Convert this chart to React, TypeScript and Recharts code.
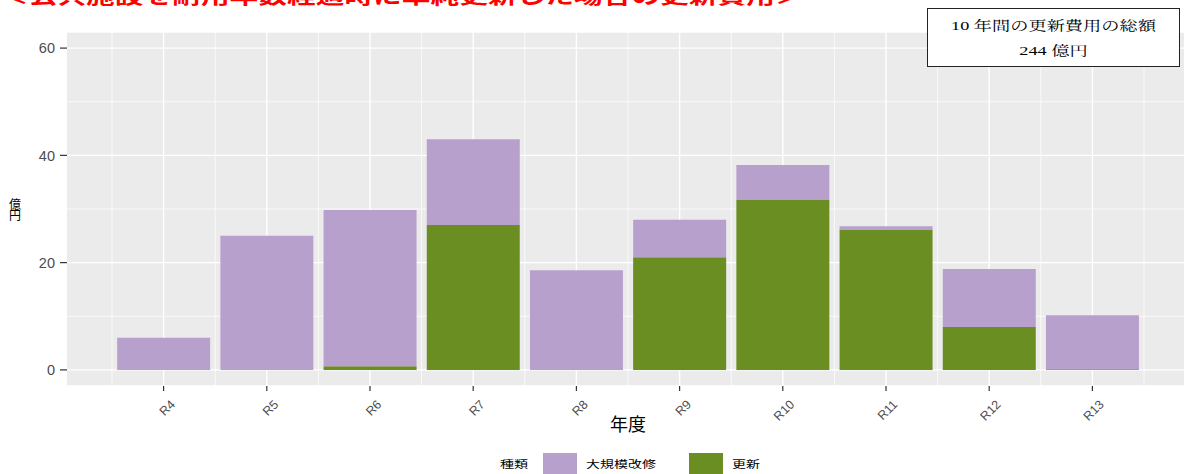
import React from "react";
import {
  Bar,
  BarChart,
  CartesianGrid,
  Label,
  Legend,
  XAxis,
  YAxis,
} from "recharts";

// 年度
const years = ["R4", "R5", "R6", "R7", "R8", "R9", "R10", "R11", "R12", "R13"];
// 更新 (億円)
const renewal = [0, 0, 0.7, 27.0, 0, 21.0, 31.7, 26.2, 8.0, 0.1];
// 大規模改修 (億円)
const majorRepair = [6.0, 25.0, 29.1, 16.0, 18.6, 7.0, 6.5, 0.6, 10.8, 10.1];
const yTicks = [0, 20, 40, 60];
const yMinor = [10, 30, 50];

const series = [
  { key: "majorRepair", name: "大規模改修", color: "#B8A0CC" },
  { key: "renewal", name: "更新", color: "#6B8E23" },
];

const data = years.map((year, i) => ({
  year,
  renewal: renewal[i],
  majorRepair: majorRepair[i],
}));

const SX = 1.4; // the picture is stretched sideways
const PAD = 45;
const SANS = "'Liberation Sans', Arial, sans-serif";
const CJK = "'Noto Sans CJK JP', sans-serif";
const TICK = "#4D4D4D";

// grid lines at category centres (odd) and between categories (even)
const gridX = (major: boolean) => ({ offset }: any) => {
  const step = (offset.width - 2 * PAD) / years.length;
  const out: number[] = [];
  for (let j = 0; j <= years.length * 2; j++) {
    if ((j % 2 === 1) === major) out.push(offset.left + PAD + (step * j) / 2);
  }
  return out;
};

const XTitle = ({ viewBox }: any) => (
  <text
    x={viewBox.x + viewBox.width / 2}
    y={viewBox.y + 37}
    textAnchor="middle"
    dominantBaseline="central"
    fontSize={18}
    fontFamily={CJK}
    fill="#000"
  >
    年度
  </text>
);

const YTitle = ({ viewBox }: any) => {
  const cx = viewBox.x + 15;
  const cy = viewBox.y + viewBox.height / 2;
  return (
    <text textAnchor="middle" fontSize={12} fontFamily={CJK} fill="#000">
      <tspan x={cx} y={cy - 5.5} dominantBaseline="central">億</tspan>
      <tspan x={cx} y={cy + 5.5} dominantBaseline="central">円</tspan>
    </text>
  );
};

const stretched = (w: number): React.CSSProperties => ({
  width: w,
  display: "inline-block",
  whiteSpace: "nowrap",
  transform: `scaleX(${SX})`,
  transformOrigin: "left center",
});

const LegendBox = () => (
  <div
    style={{
      position: "relative",
      height: 27,
      fontFamily: CJK,
      fontSize: 10,
      color: "#000",
    }}
  >
    <div style={{ position: "absolute", left: 500, top: 0, display: "flex", alignItems: "flex-start" }}>
      <span style={{ ...stretched(43), lineHeight: "34px" }}>種類</span>
      {series.map((s, i) => (
        <React.Fragment key={s.key}>
          <span style={{ width: 34, height: 24, marginTop: 6, background: s.color, display: "inline-block" }} />
          <span style={{ ...stretched(i === 0 ? 103 : 40), marginLeft: 9, lineHeight: "34px" }}>{s.name}</span>
        </React.Fragment>
      ))}
    </div>
  </div>
);

export default function App() {
  return (
    <div
      style={{
        position: "absolute",
        left: 0,
        top: 0,
        width: 1184,
        height: 474,
        overflow: "hidden",
        background: "#fff",
      }}
    >
      <BarChart
        width={1192}
        height={474}
        data={data}
        margin={{ top: 32, right: 3, left: 0, bottom: 0 }}
        barCategoryGap="5%"
      >
        <CartesianGrid
          fill="#EBEBEB"
          stroke="#FFFFFF"
          strokeWidth={0.7}
          horizontalValues={yMinor}
          verticalCoordinatesGenerator={gridX(false)}
        />
        <CartesianGrid
          stroke="#FFFFFF"
          strokeWidth={1.4}
          verticalCoordinatesGenerator={gridX(true)}
        />
        <XAxis
          dataKey="year"
          interval={0}
          padding={{ left: PAD, right: PAD }}
          axisLine={false}
          tickLine={{ stroke: "#333333", strokeWidth: 1.2 }}
          tickSize={5}
          tickMargin={8}
          height={61}
          angle={-45}
          textAnchor="end"
          tick={{ fontSize: 12.5, fontFamily: SANS, fill: TICK, dx: 6 }}
        >
          <Label content={<XTitle />} />
        </XAxis>
        <YAxis
          width={67}
          domain={[-3, 63]}
          ticks={yTicks}
          allowDataOverflow
          axisLine={false}
          tickLine={{ stroke: "#333333", strokeWidth: 1.2 }}
          tickSize={7}
          tickMargin={5}
          tick={{ fontSize: 14.5, fontFamily: SANS, fill: TICK }}
        >
          <Label content={<YTitle />} />
        </YAxis>
        <Legend
          verticalAlign="bottom"
          content={<LegendBox />}
          wrapperStyle={{ left: 0, top: 447, bottom: "auto", width: 1184, height: 27 }}
        />
        <Bar dataKey="renewal" name="更新" stackId="a" fill="#6B8E23" isAnimationActive={false} />
        <Bar dataKey="majorRepair" name="大規模改修" stackId="a" fill="#B8A0CC" isAnimationActive={false} />
      </BarChart>

      <div
        style={{
          position: "absolute",
          left: 0,
          top: -15,
          fontFamily: CJK,
          fontWeight: 700,
          fontSize: 20.5,
          lineHeight: 1,
          color: "#FF0000",
          whiteSpace: "nowrap",
          transform: `scaleX(${SX})`,
          transformOrigin: "left top",
        }}
      >
        ＜公共施設を耐用年数経過時に単純更新した場合の更新費用＞
      </div>

      <div
        style={{
          position: "absolute",
          left: 927,
          top: 8,
          width: 253,
          height: 59,
          boxSizing: "border-box",
          border: "1.5px solid #222",
          background: "#fff",
          fontFamily: "'Liberation Serif', 'Noto Serif CJK JP', 'Noto Sans CJK JP', serif",
          fontSize: 13,
          color: "#000",
          textAlign: "center",
          paddingTop: 4,
        }}
      >
        {["10 年間の更新費用の総額", "244 億円"].map((line) => (
          <div
            key={line}
            style={{ lineHeight: "25px", transform: `scaleX(${SX})`, transformOrigin: "center" }}
          >
            {line}
          </div>
        ))}
      </div>
    </div>
  );
}
